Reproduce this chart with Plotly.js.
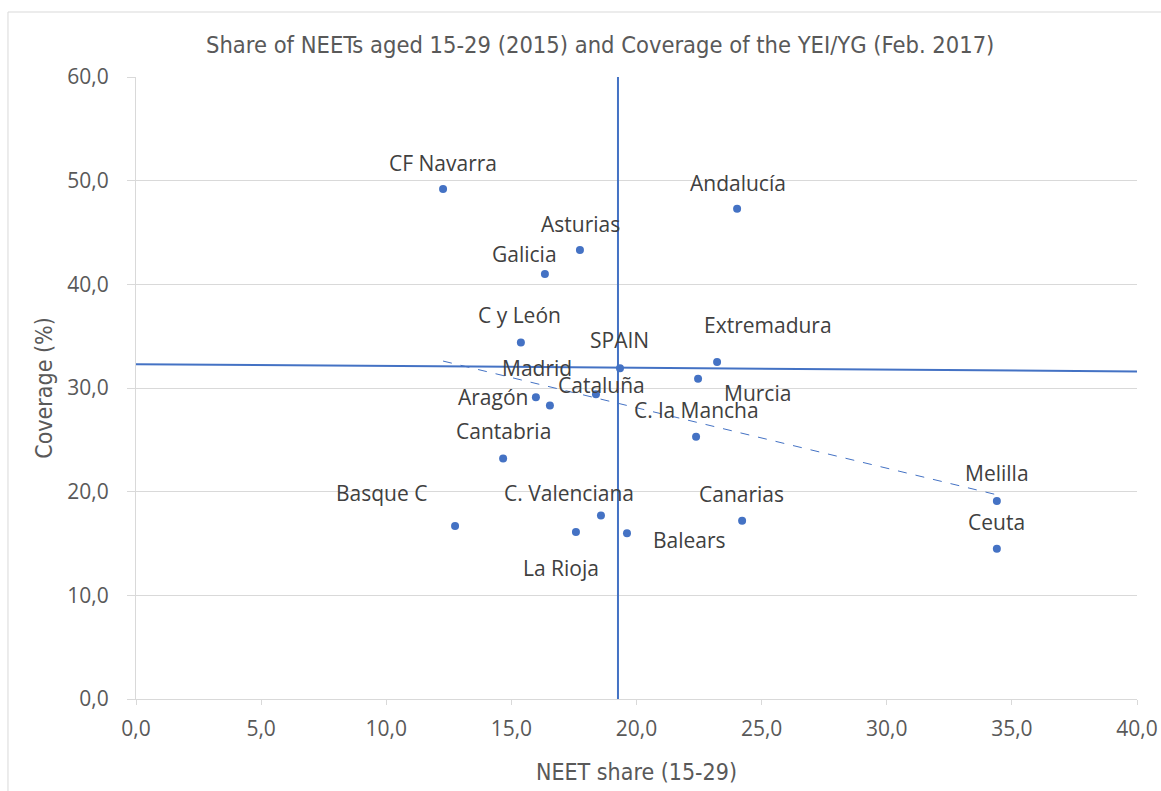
<!DOCTYPE html>
<html>
<head>
<meta charset="utf-8">
<script src="https://cdn.plot.ly/plotly-3.0.1.min.js"></script>
<style>html,body{margin:0;padding:0;background:#fff;}#chart{width:1161px;height:791px;}</style>
</head>
<body>
<div id="chart"></div>
<script>
// Regions
const regions = ["CF Navarra","Andalucía","Asturias","Galicia","C y León","SPAIN","Extremadura","Madrid","Cataluña","Aragón","Murcia","C. la Mancha","Cantabria","Melilla","Ceuta","Basque C","C. Valenciana","Canarias","Balears","La Rioja"];
// NEET share (15-29), 2015
const neetShare = [12.27,24.02,17.74,16.34,15.38,19.34,23.22,16.54,18.38,15.98,22.46,22.38,14.67,34.4,34.4,12.75,18.58,24.22,19.62,17.58];
// Coverage of the YEI/YG (%), Feb. 2017
const coverage = [49.2,47.3,43.3,41.0,34.4,31.9,32.5,28.3,29.4,29.1,30.9,25.3,23.2,19.1,14.5,16.7,17.7,17.2,16.0,16.1];
// Label offsets (pixels) relative to each point
const labelDx = [0,1,1,-20,-1,0,51,-13,6,-43,59,0,0,0,0,-74,-32,-1,63,-15];
const labelDy = [-26,-26,-26,-20,-27,-28,-37,-38,-9,0,14,-27,-27,-28,-27,-33,-23,-27,7,36];
// Reference lines (Spain average) and linear trend
const vLineX = [19.26,19.26], vLineY = [0,60.4];
const hLineX = [0,40], hLineY = [32.3,31.6];
const trendX = [12.27,34.4], trendY = [32.6,19.7];
// Axis ticks
const xTicks = [0,5,10,15,20,25,30,35,40];
const yTicks = [0,10,20,30,40,50,60];

const blue = '#4472C4';
const titleFont = 'DejaVu Sans Condensed, Liberation Sans Narrow, Open Sans';
const traces = [
  {x:vLineX,y:vLineY,mode:'lines',line:{color:blue,width:2},hoverinfo:'skip'},
  {x:hLineX,y:hLineY,mode:'lines',line:{color:blue,width:2},hoverinfo:'skip'},
  {x:trendX,y:trendY,mode:'lines',line:{color:blue,width:1,dash:'dash'},hoverinfo:'skip'},
  {x:neetShare,y:coverage,text:regions,mode:'markers',marker:{color:blue,size:8},hoverinfo:'text'}
];
const annotations = regions.map((r,i)=>({
  x:neetShare[i], y:coverage[i], xref:'x', yref:'y', text:r, showarrow:true,
  arrowcolor:'rgba(0,0,0,0)', ax:labelDx[i], ay:labelDy[i],
  font:{family:'Open Sans',size:21,color:'#404040'}
}));
annotations.push({
  xref:'paper',yref:'paper',x:0.464,y:1.052,xanchor:'center',yanchor:'middle',showarrow:false,
  text:'Share of NEETs aged 15-29 (2015) and Coverage of the YEI/YG (Feb. 2017)',
  font:{family:titleFont,size:23.5,color:'#595959'}
});
const layout = {
  width:1161,height:791,
  margin:{l:136,r:24,t:77,b:92},
  paper_bgcolor:'#fff',plot_bgcolor:'#fff',
  showlegend:false,
  separators:',.',
  xaxis:{range:[0,40],tickvals:xTicks,tickformat:'.1f',showgrid:false,zeroline:false,
    showline:true,linecolor:'#d9d9d9',linewidth:1,ticks:'outside',ticklen:5,tickcolor:'#d9d9d9',
    ticklabelstandoff:6,
    tickfont:{family:'Open Sans',size:21,color:'#595959'},
    title:{text:'NEET share (15-29)',standoff:22,font:{family:titleFont,size:23,color:'#595959'}}},
  yaxis:{range:[0,60],tickvals:yTicks,tickformat:'.1f',showgrid:true,gridcolor:'#d9d9d9',zeroline:false,
    showline:true,linecolor:'#d9d9d9',linewidth:1,ticks:'outside',ticklen:8,tickcolor:'#d9d9d9',
    ticklabelstandoff:14,
    tickfont:{family:'Open Sans',size:21,color:'#595959'},
    title:{text:'Coverage (%)',standoff:8,font:{family:titleFont,size:23,color:'#595959'}}},
  annotations:annotations,
  shapes:[{type:'rect',xref:'paper',yref:'paper',x0:-0.1279,x1:1.2,y0:-0.3,y1:1.1045,line:{color:'#d9d9d9',width:1},fillcolor:'rgba(0,0,0,0)',layer:'below'}]
};
Plotly.newPlot('chart',traces,layout,{displayModeBar:false,staticPlot:true});
</script>
</body>
</html>
